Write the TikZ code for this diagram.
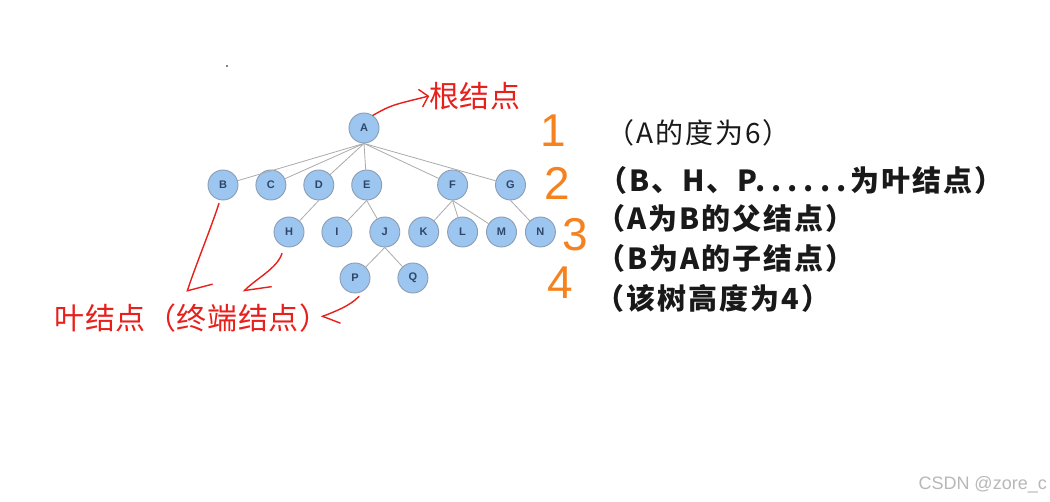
\documentclass[tikz,border=0pt]{standalone}
\usepackage{fontspec}
\setmainfont{Liberation Sans}
\setsansfont{Liberation Sans}
\newfontfamily\cjk{Noto Sans CJK SC}[LetterSpace=7]
\newfontfamily\cjkpen{Noto Sans CJK SC}[LetterSpace=2]
\usetikzlibrary{arrows.meta, positioning}
\definecolor{nodeblue}{HTML}{9CC5F0}
\definecolor{nodeline}{HTML}{8A9DB4}
\definecolor{nodetext}{HTML}{2E4668}
\definecolor{edgegray}{HTML}{ABABAB}
\definecolor{penred}{HTML}{E8201C}
\definecolor{penorange}{HTML}{F5821F}

\begin{document}
\begin{tikzpicture}[
    x=1pt, y=-1pt,
    tnode/.style={circle, draw=nodeline, fill=nodeblue, line width=0.9pt, minimum size=30pt, inner sep=0pt, font=\fontsize{11}{11}\selectfont\bfseries\sffamily, text=nodetext},
    treeline/.style={draw=edgegray, line width=0.8pt},
    redtxt/.style={text=penred, inner sep=0pt, font=\fontsize{30}{30}\selectfont\cjkpen},
    redpen/.style={draw=penred, line width=1.4pt, line cap=round, line join=round},
    redarr/.style={redpen, -{Straight Barb[length=8pt, width=18pt]}},
    numtxt/.style={text=penorange, inner sep=0pt, font=\fontsize{46}{46}\selectfont},
    notetxt/.style={anchor=west, inner sep=0pt, text=black!90, font=\fontsize{29}{29}\selectfont\cjk\bfseries}
]
\useasboundingbox[fill=white] (0,0) rectangle (1050,502);
\fill (227,66) circle (0.8);

% Tree nodes
\node[tnode] (a) at (364,128) {A};
\node[tnode] (b) at (223,185) {B};
\node[tnode, right=17pt of b] (c) {C};
\node[tnode, right=17pt of c] (d) {D};
\node[tnode, right=17pt of d] (e) {E};
\node[tnode, right=55pt of e] (f) {F};
\node[tnode, right=27pt of f] (g) {G};
\node[tnode] (h) at (289,232) {H};
\node[tnode, right=17pt of h] (i) {I};
\node[tnode, right=17pt of i] (j) {J};
\node[tnode, right=8pt of j] (k) {K};
\node[tnode, right=8pt of k] (l) {L};
\node[tnode, right=8pt of l] (m) {M};
\node[tnode, right=8pt of m] (n) {N};
\node[tnode] (p) at (355,278) {P};
\node[tnode, right=27pt of p] (q) {Q};

% Tree edges
\foreach \c in {b,c,d,e,f,g}
    \draw[treeline] (a.south) -- (\c);
\draw[treeline] (d.south) -- (h);
\draw[treeline] (e.south) -- (i);
\draw[treeline] (e.south) -- (j);
\foreach \c in {k,l,m}
    \draw[treeline] (f.south) -- (\c);
\draw[treeline] (g.south) -- (n);
\draw[treeline] (j.south) -- (p);
\draw[treeline] (j.south) -- (q);

% Red notes
\node[redtxt] (root) at (475,96) {根结点};
\draw[redarr] (a.55) .. controls +(18,-10) .. (root.west);
\node[redtxt] (leaf) at (192,318) {叶结点（终端结点）};
\coordinate (tipb) at (187,292);
\coordinate (tiph) at (243,292);
\coordinate (tipp) at (321,317);
\draw[redpen, -{Straight Barb[left, length=14pt, width=44pt]}]
    ([xshift=-4pt,yshift=-3pt]b.south) .. controls +(-10,30) and ([shift={(8,-25)}]tipb) .. (tipb);
\draw[redpen, -{Straight Barb[left, length=22pt, width=33pt]}]
    ([xshift=-7pt,yshift=-6pt]h.south) .. controls +(-5,15) and ([shift={(14,-14)}]tiph) .. (tiph);
\draw[redpen, -{Straight Barb[left, length=14pt, width=26pt]}]
    ([xshift=4pt,yshift=-3pt]p.south) .. controls +(-10,10) and ([shift={(15,-6)}]tipp) .. (tipp);

% Levels
\node[numtxt] (lv1) at (553,131) {1};
\node[numtxt] (lv2) at (557,183) {2};
\node[numtxt] (lv3) at (575,235) {3};
\node[numtxt] (lv4) at (560,283) {4};

% Notes
\node[notetxt, font=\fontsize{28}{28}\selectfont\cjk] (deg) at (606,133) {（A的度为6）};
\node[notetxt] (leafs) at (598,180) {（B、H、P.\kern6pt.\kern6pt.\kern6pt.\kern6pt.\kern6pt.\kern4pt为叶结点）};
\node[notetxt] (parent) at (596,218) {（A为B的父结点）};
\node[notetxt] (child) at (596,258) {（B为A的子结点）};
\node[notetxt] (height) at (595,298) {（该树高度为4）};

% Watermark
\node[anchor=east, inner sep=0pt, text=black!28, font=\fontsize{18}{18}\selectfont] (mark) at (1047,485) {CSDN @zore\_c};
\end{tikzpicture}
\end{document}
